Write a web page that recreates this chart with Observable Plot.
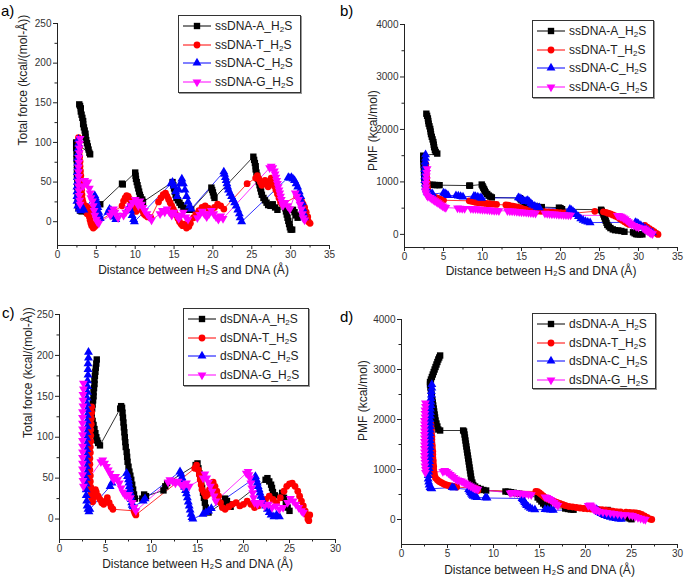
<!DOCTYPE html>
<html><head><meta charset="utf-8">
<script src="https://cdn.jsdelivr.net/npm/d3@7"></script>
<script src="https://cdn.jsdelivr.net/npm/@observablehq/plot@0.6"></script>
<style>
body{margin:0;background:#fff;font-family:"Liberation Sans",Arial,sans-serif;}
#root{position:relative;width:685px;height:583px;overflow:hidden;background:#fff;}
.panel{position:absolute;}
.plabel{position:absolute;font-size:15px;color:#000;line-height:1;}
.legend{position:absolute;box-sizing:border-box;border:1px solid #333;background:#fff;font-size:12px;padding:1px 3px;box-shadow:1px 1px 0 #999;color:#222;}
.legend .row{display:flex;align-items:center;height:18.5px;white-space:nowrap;}
.legend svg{margin-right:3px;flex:none;}
.legend sub{font-size:8px;vertical-align:-2px;line-height:0;}
</style></head><body><div id="root"></div><script>
// ---------- DATA ----------
// Panel a: ssDNA total force (kcal/(mol·Å)) vs distance (Å)
const aA = [[2.8,148],[2.9,146],[3.0,143],[3.0,139],[3.1,135],[3.2,131],[3.3,127],[3.3,123],[3.4,119],[3.5,115],[3.6,111],[3.6,107],[3.7,103],[3.8,99],[3.9,95],[4.0,91],[4.1,87],[4.2,85],
 [2.4,100],[2.4,93],[2.45,86],[2.45,79],[2.5,72],[2.5,65],[2.5,58],[2.55,51],[2.55,44],[2.6,37],[2.6,30],[2.65,23],[2.7,17],[2.9,14],[3.1,13],[3.4,14],[3.7,13],[4.0,15],[4.3,13],[4.6,15],[5.5,22],
 [8.3,48],[8.4,47],
 [10.0,62],[10.05,58],[10.1,54],[10.2,50],[10.3,46],[10.4,42],[10.5,38],[10.6,34],[10.7,31],[10.9,28],[11.0,25],
 [14.8,50],[14.9,46],[15.0,42],[15.1,38],[15.2,34],[15.3,30],[15.5,27],[15.7,24],[15.9,21],[16.2,18],[16.5,16],[16.8,15],[17.2,15],
 [19.8,43],[19.9,40],[20.0,37],[20.1,33],[20.2,30],
 [25.2,82],[25.3,78],[25.4,74],[25.5,70],[25.5,66],[25.6,62],[25.7,58],[25.8,54],[25.9,50],[26.0,46],[26.1,42],[26.2,38],[26.3,34],[26.5,30],[26.7,27],[26.9,24],[27.1,21],[27.4,20],[27.7,22],[28.0,18],[28.3,15],
 [29.3,17],[29.4,13],[29.5,9],[29.6,5],[29.7,1],[29.8,-3],[29.9,-7],[30.0,-10],[30.2,-10],[30.3,15],[30.5,12],[30.7,8],[30.9,5],[32.0,3]];
const aT = [[2.7,106],[2.75,100],[2.8,94],[2.8,88],[2.85,82],[2.9,76],[2.9,70],[2.95,64],[3.0,58],[3.0,52],[3.05,46],[3.1,40],[3.15,34],[3.2,28],[3.3,24],[3.4,20],[3.5,16],[3.6,20],[3.7,14],[3.8,10],[3.9,18],[4.0,12],[4.1,6],[4.2,2],[4.3,-2],[4.4,-5],[4.6,-8],[4.8,-6],[5.0,-2],
 [8.3,20],[8.5,26],[8.7,30],[8.9,33],[9.1,32],[9.3,28],[9.5,24],[9.7,20],[9.9,16],[10.1,13],[10.3,20],[10.5,24],[10.7,18],[10.9,14],[11.1,10],[11.3,8],[11.6,6],[12.0,5],
 [13.0,25],[13.3,30],[13.6,34],[13.9,36],[14.1,32],[14.3,28],[14.5,24],[14.7,20],[14.9,16],[15.1,12],[15.3,8],[15.5,4],[15.7,0],[15.9,-3],[16.1,-5],[16.3,-3],[16.6,-8],[16.9,-6],[17.1,-2],
 [17.5,5],[17.8,10],[18.2,14],[18.6,18],[19.0,20],[19.4,17],[19.8,14],[20.2,18],[20.6,22],[21.0,20],[21.4,16],
 [24.4,48],[25.5,55],[25.7,58],[25.9,54],[26.1,50],[26.3,46],[26.5,48],[26.7,52],[26.9,48],[27.1,44],[27.3,50],[27.5,55],[27.7,50],[27.9,45],[28.1,40],[28.3,35],[28.5,30],[28.7,25],[28.9,22],
 [30.8,32],[31.0,35],[31.2,30],[31.4,26],[31.6,22],[31.8,18],[32.0,12],[32.2,6],[32.3,0],[32.5,-2]];
const aC = [[2.7,104],[2.7,98],[2.65,92],[2.65,86],[2.6,80],[2.6,74],[2.6,68],[2.55,62],[2.55,56],[2.55,50],[2.5,44],[2.5,38],[2.5,32],[2.5,26],[2.6,20],[2.8,16],[3.0,14],[3.2,18],[3.4,15],
 [4.8,33],[4.9,30],[5.0,26],[5.1,22],[5.2,18],[5.3,12],[5.4,8],[5.5,4],
 [6.5,12],[6.7,16],[6.9,14],[7.1,10],[7.3,6],[7.5,3],
 [9.0,15],[9.2,18],[9.4,14],[9.6,8],[9.8,3],[9.9,0],
 [14.6,48],[14.8,50],[15.0,45],[15.2,38],[15.4,32],[15.6,40],[15.8,48],[16.0,54],[16.2,48],[16.4,40],[16.6,32],[16.8,25],[17.0,20],[17.2,16],
 [21.4,63],[21.5,60],[21.6,56],[21.7,52],[21.8,48],[21.9,44],[22.0,40],[22.2,36],[22.4,32],[22.6,28],[22.8,24],[23.0,20],[23.2,15],[23.4,10],[23.5,5],[23.7,0],
 [29.7,56],[29.9,55],[30.1,56],[30.3,54],[30.5,52],[30.7,48],[30.9,44],[31.1,38],[31.3,32],[31.5,24],[31.6,16],[31.7,10],[31.8,5]];
const aG = [[2.9,105],[2.85,99],[2.8,93],[2.8,87],[2.75,81],[2.75,75],[2.7,69],[2.7,63],[2.7,57],[2.7,51],[2.7,45],[2.75,39],[2.8,33],[2.85,27],[2.9,22],
 [3.3,45],[3.5,52],[3.7,48],[3.9,50],[4.1,42],[4.2,36],[4.3,30],[4.5,26],[4.6,20],[4.7,14],[4.8,8],[5.0,3],[5.1,0],[5.3,-2],
 [6.8,8],[7.0,12],[7.2,16],[7.4,12],[7.6,8],[7.8,5],
 [8.5,8],[8.8,12],[9.1,16],[9.4,20],[9.7,24],[10.0,28],[10.2,24],[10.4,20],[10.6,26],[10.8,22],[11.0,18],[11.2,14],[11.5,10],[11.8,6],[12.1,2],
 [13.2,10],[13.5,14],[13.8,12],[14.1,16],[14.4,12],[14.7,8],[15.0,12],[15.3,8],[15.6,4],[15.9,8],[16.2,12],[16.5,6],[16.8,3],
 [18.0,5],[18.3,9],[18.6,13],[18.9,10],[19.2,6],[19.5,10],[19.8,14],[20.1,10],[20.4,6],[20.7,3],[21.0,7],[21.3,4],
 [27.3,68],[27.5,70],[27.7,68],[27.9,64],[28.0,60],[28.1,56],[28.2,52],[28.3,48],[28.4,44],[28.5,40],[28.6,36],[28.7,32],[28.8,28],[28.9,24],[29.0,20],[29.3,24],[29.6,20],[29.9,16],
 [30.6,36],[30.8,32],[31.0,28],[31.2,22],[31.4,16],[31.5,10],[31.6,5],[31.8,2]];

// Panel b: ssDNA PMF (kcal/mol) vs distance (Å)
const bA = [[2.8,2300],[2.9,2260],[3.0,2210],[3.05,2160],[3.1,2110],[3.2,2060],[3.3,2010],[3.35,1960],[3.4,1910],[3.5,1860],[3.6,1810],[3.7,1760],[3.75,1710],[3.8,1660],[3.9,1610],[4.0,1570],[4.2,1540],
 [2.4,1500],[2.4,1440],[2.45,1380],[2.45,1320],[2.5,1260],[2.5,1200],[2.55,1140],[2.55,1080],[2.6,1020],[2.7,960],[3.0,950],[3.3,945],[3.6,945],[3.9,940],[4.2,940],[4.5,938],
 [8.3,930],[8.4,928],
 [9.9,950],[10.0,920],[10.1,890],[10.2,860],[10.3,830],[10.4,800],[10.6,770],[10.8,740],[11.0,720],[11.2,705],
 [14.8,690],[14.9,670],[15.0,650],[15.2,630],[15.4,610],[15.6,590],[15.9,570],[16.2,550],[16.5,540],[16.9,530],[17.2,520],[17.6,520],
 [19.8,510],[20.0,500],[20.2,480],
 [25.2,470],[25.3,450],[25.4,420],[25.5,380],[25.6,340],[25.7,300],[25.8,260],[25.9,220],[26.0,180],[26.2,150],[26.4,120],[26.7,95],[27.0,80],[27.4,75],[27.8,65],[28.2,50],
 [29.3,40],[29.5,20],[29.7,5],[29.9,0],[30.2,0],[30.5,0]];
const bT = [[2.7,1350],[2.75,1280],[2.8,1210],[2.8,1140],[2.85,1070],[2.9,1000],[2.9,940],[2.95,880],[3.0,830],[3.1,790],[3.3,760],[3.5,740],[3.7,720],[3.9,705],[4.1,695],[4.3,685],[4.5,670],[4.7,660],[5.0,650],
 [8.3,640],[8.6,630],[8.9,620],[9.2,610],[9.5,605],[9.8,600],[10.1,595],[10.4,590],[10.7,585],[11.0,580],[11.4,575],[11.8,570],
 [13.0,560],[13.3,555],[13.6,545],[13.9,540],[14.2,530],[14.5,520],[14.8,505],[15.1,490],[15.4,475],[15.7,465],[16.0,460],[16.3,455],[16.7,450],[17.1,445],
 [17.5,440],[18.0,435],[18.5,430],[19.0,425],[19.5,420],[20.0,415],[20.5,410],[21.0,405],[21.4,400],
 [24.4,440],[25.5,430],[25.8,420],[26.1,405],[26.4,390],[26.7,370],[27.0,350],[27.3,330],[27.6,300],[27.9,270],[28.2,240],[28.5,210],[28.8,190],
 [30.8,170],[31.1,140],[31.4,110],[31.7,80],[32.0,50],[32.3,20],[32.5,0]];
const bC = [[2.7,1520],[2.7,1450],[2.65,1380],[2.65,1310],[2.6,1240],[2.6,1170],[2.6,1100],[2.6,1030],[2.65,960],[2.7,900],[2.8,850],[2.9,810],[3.0,790],[3.2,780],[3.4,775],[3.6,770],
 [5.0,790],[5.2,780],[5.4,760],[5.6,740],
 [6.6,740],[6.9,735],[7.2,725],[7.5,715],
 [8.9,730],[9.1,725],[9.4,715],[9.7,700],[9.9,690],
 [14.6,700],[14.8,690],[15.0,670],[15.2,650],[15.4,630],[15.6,640],[15.8,650],[16.0,620],[16.2,590],[16.4,560],[16.7,540],[17.0,520],[17.3,510],
 [21.2,480],[21.4,460],[21.6,440],[21.8,410],[22.0,380],[22.3,340],[22.6,300],[22.9,270],[23.2,250],[23.5,235],[23.8,225],
 [29.6,230],[29.8,220],[30.0,200],[30.3,170],[30.6,140],[30.9,110],[31.2,80],[31.5,50],[31.8,30]];
const bG = [[2.9,1250],[2.85,1180],[2.8,1110],[2.8,1040],[2.75,970],[2.75,900],[2.7,840],[2.75,790],[2.85,750],[3.0,720],
 [3.3,700],[3.5,680],[3.7,660],[3.9,640],[4.1,620],[4.3,600],[4.5,580],[4.7,560],[4.9,540],[5.1,520],[5.3,510],
 [6.8,500],[7.1,495],[7.4,490],[7.7,490],
 [8.5,490],[8.8,488],[9.1,485],[9.4,482],[9.7,478],[10.0,474],[10.3,470],[10.6,466],[10.9,462],[11.2,458],[11.5,455],[11.8,452],[12.1,450],
 [13.2,448],[13.5,445],[13.8,442],[14.1,438],[14.4,434],[14.7,430],[15.0,426],[15.3,422],[15.6,418],[15.9,414],[16.2,410],[16.5,406],[16.8,402],
 [18.0,400],[18.3,396],[18.6,392],[18.9,388],[19.2,385],[19.5,382],[19.8,378],[20.1,375],[20.4,372],[20.7,370],[21.0,368],[21.3,365],
 [27.3,360],[27.5,355],[27.7,345],[27.9,330],[28.1,310],[28.3,290],[28.5,265],[28.7,240],[28.9,215],[29.1,190],[29.4,170],[29.7,150],[30.0,135],
 [30.6,120],[30.8,100],[31.0,80],[31.2,60],[31.4,40],[31.6,20],[31.8,10]];

// Panel c: dsDNA total force
const cA = [[4.05,195],[4.0,190],[3.95,185],[3.9,180],[3.85,175],[3.8,170],[3.8,165],[3.75,160],[3.7,155],[3.7,150],[3.65,145],[3.6,140],[3.55,135],[3.5,130],[3.5,125],[3.6,120],[3.7,115],[3.8,110],[3.9,105],[4.0,100],[4.1,96],[4.2,93],[4.4,90],
 [6.6,135],[6.7,138],[6.8,136],[6.85,130],[6.9,124],[6.95,118],[7.0,112],[7.05,106],[7.1,100],[7.15,94],[7.2,88],[7.3,82],[7.35,76],[7.4,70],[7.5,64],[7.6,58],[7.7,53],[7.8,48],[7.9,42],[8.0,36],[8.1,30],[8.2,25],
 [9.0,25],[9.2,30],[9.4,28],
 [11.3,35],[11.5,40],[11.7,44],
 [14.8,66],[15.0,68],[15.1,62],[15.2,56],[15.3,50],[15.4,44],[15.5,38],[15.6,32],[15.7,26],[15.8,20],[15.9,14],[16.0,10],[16.2,8],
 [17.8,20],[18.0,25],[18.2,22],[18.4,18],[18.6,15],
 [22.4,48],[22.6,50],[22.8,46],[23.0,42],[23.1,38],[23.2,33],[23.4,29],
 [24.2,32],[24.4,26],[24.6,20],[24.8,14],[25.0,10]];
const cT = [[3.5,137],[3.5,130],[3.45,123],[3.45,116],[3.4,109],[3.4,102],[3.4,95],[3.35,88],[3.35,81],[3.3,74],[3.3,67],[3.3,60],[3.35,53],[3.35,46],[3.4,39],[3.45,32],[3.5,26],[3.6,21],[3.7,26],[3.8,32],[3.9,36],[4.0,33],[4.2,28],[4.4,24],[4.6,20],[4.8,18],[5.0,22],[5.2,26],[5.4,20],[5.6,15],[5.8,12],
 [8.1,10],[8.2,7],[8.3,5],
 [14.7,62],[14.9,66],[15.1,60],[15.2,54],[15.3,48],[15.4,42],[15.5,36],[15.7,32],[15.9,28],[16.1,30],[16.3,36],[16.5,42],[16.7,45],[16.9,40],[17.1,34],[17.3,28],[17.5,20],[17.7,14],[18.0,12],[18.4,15],[18.8,18],[19.2,20],[19.6,16],[20.0,18],[20.4,22],[20.8,18],[21.2,14],[21.6,16],[22.0,20],[22.4,24],[22.8,28],[23.2,24],[23.6,20],[24.0,26],
 [24.4,34],[24.7,40],[25.0,43],[25.3,44],[25.6,40],[25.9,34],[26.1,28],[26.3,22],[26.5,16],[26.7,10],[26.9,5],[27.0,0],[27.1,-2],[27.2,5]];
const cC = [[3.15,204],[3.15,197],[3.1,190],[3.1,183],[3.1,176],[3.05,169],[3.05,162],[3.05,155],[3.0,148],[3.0,141],[3.0,134],[3.0,127],[3.0,120],[3.0,113],[2.95,106],[2.95,99],[2.95,92],[2.95,85],[2.95,78],[2.95,71],[2.95,64],[2.95,57],[2.9,50],[2.9,43],[2.9,36],[2.9,29],[2.95,22],[3.0,16],[3.1,12],[3.2,9],[3.3,12],
 [5.5,40],[5.7,44],
 [7.3,56],[7.4,52],[7.5,48],[7.55,44],[7.6,40],[7.65,36],[7.7,32],[7.75,28],[7.8,24],[7.85,20],[7.9,17],[8.0,15],
 [9.1,22],[9.3,25],
 [13.1,58],[13.2,55],[13.3,51],[13.4,47],[13.5,43],[13.6,39],[13.7,35],[13.8,31],[13.9,26],[14.0,21],[14.1,16],[14.2,11],[14.3,6],[14.4,2],[14.5,0],
 [15.6,6],[15.9,8],[16.2,10],[16.5,13],
 [21.2,50],[21.3,52],[21.4,48],[21.5,44],[21.6,40],[21.7,36],[21.8,32],[21.9,28],[22.0,24],[22.2,20],[22.4,16],[22.6,12],[22.8,8],[23.0,5],[23.3,3],[23.6,5],[23.9,3]];
const cG = [[2.6,166],[2.6,159],[2.55,152],[2.55,145],[2.55,138],[2.5,131],[2.5,124],[2.5,117],[2.5,110],[2.5,103],[2.5,96],[2.5,89],[2.5,82],[2.5,75],[2.5,68],[2.5,61],[2.5,54],[2.55,47],[2.6,40],
 [4.5,70],[4.7,72],[4.9,68],[5.1,64],[5.3,60],[5.5,56],[5.7,52],[5.9,48],[6.1,52],[6.3,48],[6.5,44],[6.7,38],[6.9,33],[7.1,30],[7.3,28],[7.5,30],[7.7,26],[7.9,20],[8.1,14],[8.3,10],
 [11.8,45],[12.0,48],[12.3,46],[12.6,44],[12.9,46],[13.2,42],[13.5,40],[13.8,44],[14.1,40],
 [15.6,50],[15.8,55],[16.0,50],[16.2,45],[16.4,40],[16.6,34],[16.8,28],[17.0,22],
 [20.3,56],[20.5,58],[20.6,54],[20.7,50],[20.8,44],[20.9,38],[21.0,32],[21.1,26],[21.2,20],[21.5,18],[21.9,20],[22.3,16],[22.7,18],[23.1,14],[23.5,16],[23.9,12],[24.3,14],
 [24.8,20],[25.1,25],[25.4,22],[25.7,18],[26.0,14],[26.3,10],[26.5,8]];

// Panel d: dsDNA PMF
const dA = [[4.2,3280],[4.1,3240],[4.0,3200],[3.9,3150],[3.8,3100],[3.7,3050],[3.6,3000],[3.5,2950],[3.4,2900],[3.3,2850],[3.2,2800],[3.1,2750],[3.1,2700],[3.15,2640],[3.2,2580],[3.25,2520],[3.3,2460],[3.35,2400],[3.4,2340],[3.45,2280],[3.5,2220],[3.55,2160],[3.6,2100],[3.65,2040],[3.7,1980],[3.8,1920],[3.9,1860],[4.0,1800],[4.2,1780],
 [6.7,1780],[6.8,1760],[6.85,1700],[6.9,1640],[6.95,1580],[7.0,1520],[7.05,1460],[7.1,1400],[7.15,1340],[7.2,1280],[7.25,1220],[7.3,1160],[7.35,1100],[7.4,1040],[7.45,980],[7.5,920],[7.55,860],[7.6,800],[7.7,740],[7.8,690],[8.0,660],[8.3,630],[8.6,610],[8.9,590],[9.2,580],
 [11.3,560],[11.6,555],[11.9,545],[12.2,535],[12.5,525],[12.8,515],
 [14.8,440],[15.0,400],[15.2,360],[15.4,320],[15.6,290],[15.8,270],[16.0,255],
 [17.8,220],[18.1,210],[18.4,200],[18.7,195],
 [22.4,190],[22.6,170],[22.8,150],[23.0,130],[23.2,110],
 [24.2,80],[24.4,60],[24.6,40],[24.8,20],[25.0,5]];
const dT = [[3.2,1900],[3.2,1840],[3.25,1780],[3.25,1720],[3.3,1660],[3.3,1600],[3.3,1540],[3.35,1480],[3.35,1420],[3.4,1360],[3.4,1300],[3.4,1240],[3.45,1180],[3.45,1120],[3.5,1060],[3.5,1000],[3.55,940],[3.6,880],[3.7,830],[3.9,790],[4.1,760],[4.3,740],[4.5,720],[4.7,700],[4.9,690],[5.1,680],[5.4,670],[5.7,660],[6.0,650],
 [8.1,620],[8.2,600],[8.3,580],
 [14.6,560],[14.8,555],[15.0,530],[15.2,500],[15.4,470],[15.6,440],[15.8,420],[16.0,400],[16.3,380],[16.6,360],[16.9,340],[17.2,320],[17.5,300],[17.8,280],[18.2,260],[18.6,250],[19.0,240],[19.4,230],[19.8,220],[20.2,215],[20.6,210],[21.0,205],[21.4,200],[21.8,195],[22.2,185],[22.6,175],[23.0,165],[23.4,155],[23.8,150],
 [24.4,145],[24.8,140],[25.2,135],[25.5,130],[25.8,120],[26.1,100],[26.4,70],[26.7,40],[27.0,10],[27.2,0]];
const dC = [[3.3,2700],[3.3,2630],[3.25,2560],[3.25,2490],[3.2,2420],[3.2,2350],[3.2,2280],[3.15,2210],[3.15,2140],[3.15,2070],[3.1,2000],[3.1,1930],[3.1,1860],[3.1,1790],[3.1,1720],[3.1,1650],[3.1,1580],[3.1,1510],[3.1,1440],[3.1,1370],[3.1,1300],[3.05,1230],[3.05,1160],[3.0,1090],[3.0,1020],[2.95,950],[2.9,880],[2.9,810],[2.95,750],[3.0,690],[3.1,640],[3.2,620],[3.3,615],
 [5.5,640],[5.7,630],
 [7.3,600],[7.4,570],[7.5,540],[7.6,510],[7.7,485],[7.8,465],[8.0,450],[8.2,440],
 [9.1,435],[9.3,430],
 [13.1,420],[13.2,400],[13.3,370],[13.4,340],[13.5,310],[13.6,280],[13.8,250],[14.0,225],[14.2,205],[14.5,195],
 [15.6,200],[15.9,195],[16.2,190],[16.5,185],
 [21.2,200],[21.3,180],[21.4,160],[21.5,140],[21.7,120],[21.9,100],[22.1,80],[22.4,60],[22.7,45],[23.0,30],[23.3,20],[23.6,10],[23.9,5]];
const dG = [[2.6,2330],[2.6,2260],[2.55,2190],[2.55,2120],[2.55,2050],[2.5,1980],[2.5,1910],[2.5,1840],[2.5,1770],[2.5,1700],[2.5,1630],[2.5,1560],[2.5,1490],[2.5,1420],[2.5,1350],[2.5,1280],[2.5,1210],[2.55,1140],[2.55,1070],[2.6,1000],[2.6,940],
 [4.5,960],[4.7,980],[4.9,960],[5.1,930],[5.3,900],[5.5,870],[5.7,840],[5.9,810],[6.1,790],[6.3,780],[6.5,770],[6.7,750],[6.9,730],[7.1,710],[7.3,690],[7.5,670],[7.7,650],[7.9,630],[8.1,615],[8.3,605],
 [11.8,530],[12.0,540],[12.3,535],[12.6,530],[12.9,525],[13.2,520],[13.5,515],[13.8,505],[14.1,495],
 [15.6,450],[15.8,440],[16.0,420],[16.2,400],[16.4,370],[16.6,340],[16.8,310],[17.0,280],
 [20.3,280],[20.5,290],[20.6,270],[20.7,250],[20.8,230],[20.9,210],[21.0,200],[21.2,180],[21.5,160],[21.9,150],[22.3,140],[22.7,130],[23.1,120],[23.5,110],[23.9,100],[24.3,95],
 [24.8,90],[25.1,80],[25.4,60],[25.7,40],[26.0,25],[26.3,10],[26.5,0]];

// Tick values
const xTicks35 = [0,5,10,15,20,25,30,35];
const xMinor35 = [2.5,7.5,12.5,17.5,22.5,27.5,32.5];
const xTicks30 = [0,5,10,15,20,25,30];
const xMinor30 = [2.5,7.5,12.5,17.5,22.5,27.5];
const yTicksForce = [0,50,100,150,200,250];
const yMinorForce = [25,75,125,175,225];
const yTicksPMF = [0,1000,2000,3000,4000];
const yMinorPMF = [500,1500,2500,3500];
const ssNames = ["ssDNA-A","ssDNA-T","ssDNA-C","ssDNA-G"];
const dsNames = ["dsDNA-A","dsDNA-T","dsDNA-C","dsDNA-G"];
const forceLabel = "Total force (kcal/(mol-Å))";
const pmfLabel = "PMF (kcal/mol)";
const distLabel = "Distance between H₂S and DNA (Å)";

// ---------- STYLE / LAYOUT ----------
const sqrt3 = Math.sqrt(3);
const triangleDown = {draw(ctx, size){ const y = -Math.sqrt(size/(sqrt3*3)); ctx.moveTo(0,-y*2); ctx.lineTo(-sqrt3*y, y); ctx.lineTo(sqrt3*y, y); ctx.closePath(); }};
const styles = [
  {color:"#000000", symbol:"square", r:3.6},
  {color:"#ff0000", symbol:"circle", r:3.4},
  {color:"#0000ff", symbol:"triangle", r:3.3},
  {color:"#ff00ff", symbol:triangleDown, r:3.3}
];

const panels = [
  {tag:"a)", left:0, top:0, width:340, height:290, ml:57, mr:11, mt:23, mb:45,
   xDomain:[0,35], yDomain:[-30,250], xTicks:xTicks35, xMinor:xMinor35, yTicks:yTicksForce, yMinor:yMinorForce,
   ylabel:forceLabel, ydx:-34, ydy:11, xdy:28, series:[aA,aT,aC,aG], names:ssNames,
   tagPos:[1,3], legend:{left:178, top:15, width:123, height:78}},
  {tag:"b)", left:340, top:0, width:345, height:290, ml:64, mr:8, mt:24, mb:43,
   xDomain:[0,35], yDomain:[-250,4000], xTicks:xTicks35, xMinor:xMinor35, yTicks:yTicksPMF, yMinor:yMinorPMF,
   ylabel:pmfLabel, ydx:-31, ydy:35, xdy:27, series:[bA,bT,bC,bG], names:ssNames,
   tagPos:[340,3], legend:{left:532, top:20, width:122, height:78}},
  {tag:"c)", left:0, top:290, width:340, height:293, ml:59, mr:5, mt:24, mb:44,
   xDomain:[0,30], yDomain:[-25,250], xTicks:xTicks30, xMinor:xMinor30, yTicks:yTicksForce, yMinor:yMinorForce,
   ylabel:forceLabel, ydx:-31, ydy:11, xdy:28, series:[cA,cT,cC,cG], names:dsNames,
   tagPos:[2,305], legend:{left:183, top:308, width:126, height:78}},
  {tag:"d)", left:340, top:290, width:345, height:293, ml:61, mr:8, mt:29, mb:39,
   xDomain:[0,30], yDomain:[-500,4000], xTicks:xTicks30, xMinor:xMinor30, yTicks:yTicksPMF, yMinor:yMinorPMF,
   ylabel:pmfLabel, ydx:-38, ydy:9, xdy:29, series:[dA,dT,dC,dG], names:dsNames,
   tagPos:[340,309], legend:{left:532, top:313, width:124, height:76}}
];

const root = document.getElementById("root");
const axisColor = "#222";

for (const p of panels) {
  const marks = [];
  p.series.forEach((s, i) => {
    const st = styles[i];
    marks.push(Plot.line(s, {x: d => d[0], y: d => d[1], stroke: st.color, strokeWidth: 0.8}));
  });
  p.series.forEach((s, i) => {
    const st = styles[i];
    marks.push(Plot.dot(s, {x: d => d[0], y: d => d[1], fill: st.color, symbol: st.symbol, r: st.r}));
  });
  marks.push(Plot.ruleX([p.xDomain[0]], {stroke: axisColor, strokeWidth: 1}));
  marks.push(Plot.ruleY([p.yDomain[0]], {stroke: axisColor, strokeWidth: 1}));
  marks.push(Plot.axisX({ticks: p.xTicks, tickSize: 4, tickPadding: 1, fontSize: 10, label: null, tickFormat: d => String(d), stroke: axisColor, fill: "#333"}));
  marks.push(Plot.axisX({ticks: p.xMinor, tickSize: 2.5, label: null, tickFormat: () => "", stroke: axisColor}));
  marks.push(Plot.axisY({ticks: p.yTicks, tickSize: 4, tickPadding: 2, fontSize: 10, label: null, tickFormat: d => String(d), stroke: axisColor, fill: "#333"}));
  marks.push(Plot.axisY({ticks: p.yMinor, tickSize: 2.5, label: null, tickFormat: () => "", stroke: axisColor}));
  marks.push(Plot.text([p.ylabel], {frameAnchor: "left", dx: p.ydx, dy: p.ydy, rotate: -90, fontSize: 12, fill: "#222", text: d => d}));
  marks.push(Plot.text([distLabel], {frameAnchor: "bottom", dy: p.xdy, fontSize: 12, fill: "#222", text: d => d}));

  const svg = Plot.plot({
    width: p.width, height: p.height,
    marginLeft: p.ml, marginRight: p.mr, marginTop: p.mt, marginBottom: p.mb,
    x: {domain: p.xDomain}, y: {domain: p.yDomain},
    style: {fontFamily: '"Liberation Sans", Arial, sans-serif', background: "transparent", overflow: "visible", color: "#222"},
    marks
  });
  const div = document.createElement("div");
  div.className = "panel";
  div.style.left = p.left + "px"; div.style.top = p.top + "px";
  div.appendChild(svg);
  root.appendChild(div);

  const tag = document.createElement("div");
  tag.className = "plabel";
  tag.textContent = p.tag;
  tag.style.left = p.tagPos[0] + "px"; tag.style.top = p.tagPos[1] + "px";
  root.appendChild(tag);

  const lg = document.createElement("div");
  lg.className = "legend";
  Object.assign(lg.style, {left: p.legend.left + "px", top: p.legend.top + "px", width: p.legend.width + "px", height: p.legend.height + "px"});
  p.names.forEach((n, i) => {
    const st = styles[i];
    const row = document.createElement("div");
    row.className = "row";
    const s = d3.create("svg").attr("width", 30).attr("height", 12);
    s.append("line").attr("x1", 1).attr("x2", 29).attr("y1", 6).attr("y2", 6).attr("stroke", st.color).attr("stroke-width", 1);
    const sym = typeof st.symbol === "string" ? {square: d3.symbolSquare, circle: d3.symbolCircle, triangle: d3.symbolTriangle}[st.symbol] : st.symbol;
    s.append("path").attr("transform", "translate(15,6)").attr("d", d3.symbol(sym, Math.PI * st.r * st.r)()).attr("fill", st.color);
    row.appendChild(s.node());
    const t = document.createElement("span");
    t.innerHTML = n + "_H<sub>2</sub>S";
    row.appendChild(t);
    lg.appendChild(row);
  });
  root.appendChild(lg);
}
</script></body></html>
